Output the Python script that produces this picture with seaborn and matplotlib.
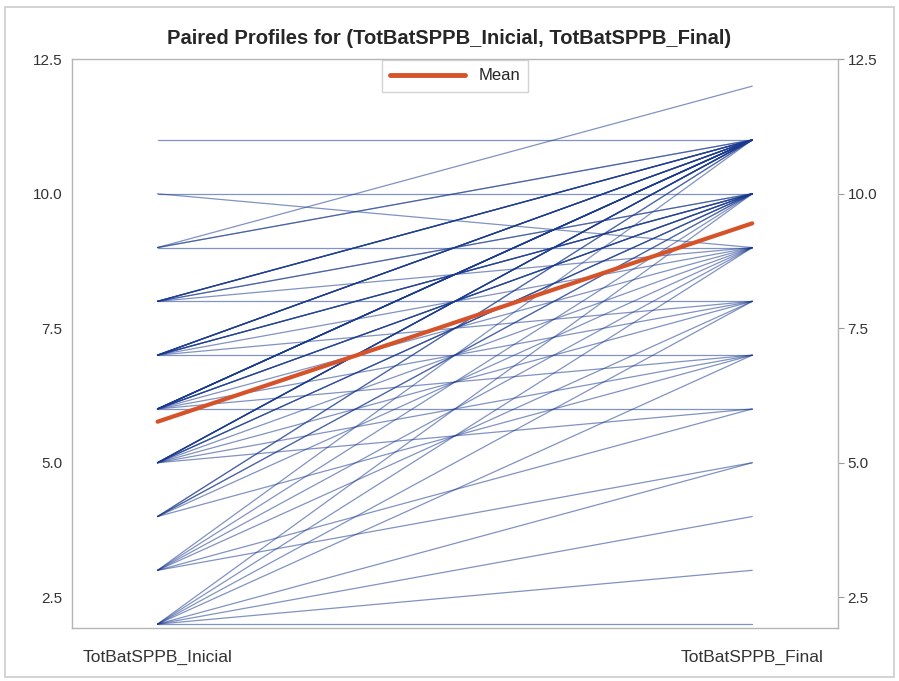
import numpy as np
import pandas as pd
import matplotlib
matplotlib.use("Agg")
import matplotlib.pyplot as plt
import seaborn as sns

# paired observations: initial score, final score, number of subjects with that pair
start_vals = [11, 10, 10, 9, 9, 9, 8, 8, 8, 8, 7, 7, 7, 7, 7,
              6, 6, 6, 6, 6, 6, 5, 5, 5, 5, 5, 5, 4, 4, 4, 4,
              3, 3, 3, 3, 3, 3, 2, 2, 2, 2, 2, 2, 2, 2]
end_vals = [11, 10, 9, 12, 11, 9, 11, 10, 9, 8, 11, 10, 9, 8, 7,
            11, 10, 9, 8, 7, 6, 11, 10, 9, 8, 7, 6, 11, 10, 9, 7,
            11, 10, 9, 8, 6, 5, 10, 9, 8, 7, 5, 4, 3, 2]
pair_counts = [1, 1, 1, 1, 2, 1, 5, 2, 1, 1, 6, 4, 1, 1, 1,
               10, 4, 1, 1, 1, 1, 6, 3, 1, 1, 1, 1, 2, 2, 1, 1,
               1, 1, 1, 1, 1, 1, 1, 1, 1, 1, 1, 1, 1, 1]

var_names = ["TotBatSPPB_Inicial", "TotBatSPPB_Final"]
y_ticks = [2.5, 5.0, 7.5, 10.0, 12.5]


def build_long_df():
    ini = np.repeat(start_vals, pair_counts)
    fin = np.repeat(end_vals, pair_counts)
    wide = pd.DataFrame({var_names[0]: ini, var_names[1]: fin})
    wide["subject"] = np.arange(len(wide))
    long_df = wide.melt(id_vars="subject", var_name="variable", value_name="score")
    return long_df


def main():
    long_df = build_long_df()

    sns.set_style("white")
    plt.rcParams["font.family"] = ["Liberation Sans", "DejaVu Sans"]

    fig = plt.figure(figsize=(8.99, 6.81), dpi=100)
    ax = fig.add_axes([0.080, 0.078, 0.852, 0.835])

    # one line per subject
    sns.lineplot(data=long_df, x="variable", y="score", units="subject",
                 estimator=None, color="#1a3a8f", alpha=0.55, linewidth=0.9,
                 ax=ax, legend=False)
    # mean profile
    sns.lineplot(data=long_df, x="variable", y="score", estimator="mean",
                 errorbar=None, color="#d6532a", linewidth=3, ax=ax,
                 label="Mean")

    ax.set_xlim(-0.144, 1.144)
    ax.set_ylim(1.93, 12.5)
    ax.set_xticks([0, 1])
    ax.set_xticklabels(var_names, fontsize=12.5, color="#333333")
    ax.set_yticks(y_ticks)
    ax.set_yticklabels([f"{t:.1f}" for t in y_ticks], fontsize=11, color="#333333")
    ax.tick_params(axis="y", right=True, labelright=True, direction="out",
                   length=4, color="#999999", pad=3)
    ax.tick_params(axis="x", direction="out", length=4, color="#999999", pad=12)
    ax.set_xlabel("")
    ax.set_ylabel("")
    for sp in ax.spines.values():
        sp.set_color("#b5b5b5")
        sp.set_linewidth(1)

    leg = ax.legend(loc="upper center", fontsize=12, frameon=True,
                    handlelength=4.5, borderaxespad=0.35, borderpad=0.2)
    leg.get_frame().set_edgecolor("#c8c8c8")
    leg.get_frame().set_boxstyle("square")
    for line in leg.get_lines():
        line.set_linewidth(3.5)

    fig.suptitle("Paired Profiles for (TotBatSPPB_Inicial, TotBatSPPB_Final)",
                 y=0.958, fontsize=14.5, fontweight="bold")

    # light frame around the whole graph
    fig.patches.append(plt.Rectangle((0.006, 0.006), 0.988, 0.983,
                                     transform=fig.transFigure, fill=False,
                                     edgecolor="#cccccc", linewidth=1.2))

    fig.savefig("out.png", dpi=100)


if __name__ == "__main__":
    main()
